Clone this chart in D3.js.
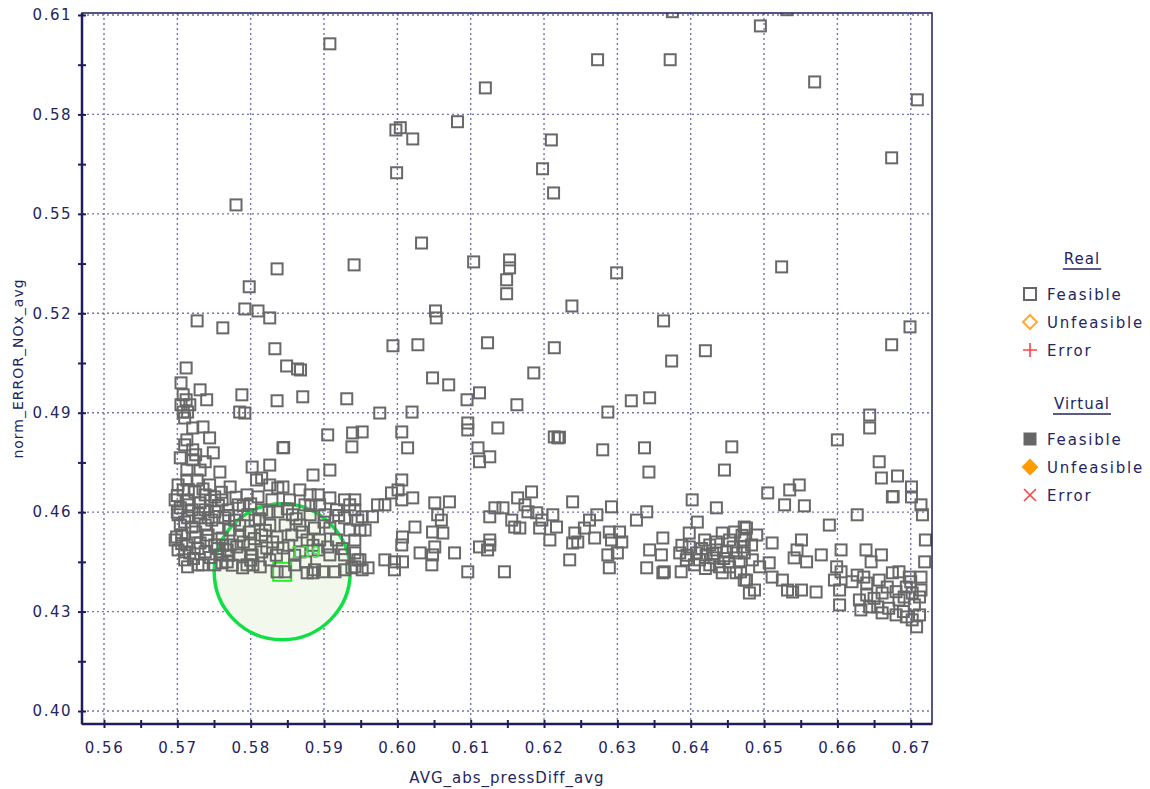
<!DOCTYPE html>
<html>
<head>
<meta charset="utf-8">
<script src="https://cdn.jsdelivr.net/npm/d3@7"></script>
<style>
  body { margin: 0; background: #fff; }
  text { font-family: "DejaVu Sans", sans-serif; }
</style>
</head>
<body>
<div id="chart"></div>
<script>
// axis ticks
const xTicks = [0.56, 0.57, 0.58, 0.59, 0.60, 0.61, 0.62, 0.63, 0.64, 0.65, 0.66, 0.67];
const yTicks = [0.40, 0.43, 0.46, 0.49, 0.52, 0.55, 0.58, 0.61];
const xTitle = "AVG_abs_pressDiff_avg";
const yTitle = "norm_ERROR_NOx_avg";

// selected design (green circle)
const selectedPoint = [0.5843, 0.4420];
const selectedLabel = "139";

// legend
const realLegend = ["Feasible", "Unfeasible", "Error"];
const virtualLegend = ["Feasible", "Unfeasible", "Error"];

// real feasible designs [x, y]
const upperPoints = [
  [0.5908,0.6013],[0.6273,0.5965],[0.6120,0.5880],[0.6372,0.5965],[0.6375,0.6110],[0.6495,0.6067],
  [0.6531,0.6116],[0.6569,0.5898],[0.6709,0.5844],[0.6082,0.5778],[0.5998,0.5753],[0.6004,0.5760],
  [0.6021,0.5726],[0.6210,0.5723],[0.6213,0.5563],[0.6198,0.5636],[0.5999,0.5624],[0.5780,0.5527],
  [0.6674,0.5669],[0.6033,0.5412],[0.6104,0.5355],[0.5941,0.5346],[0.6153,0.5361],[0.6153,0.5337],
  [0.6149,0.5301],[0.6149,0.5259],[0.6299,0.5322],[0.6524,0.5340],[0.5836,0.5334],[0.5798,0.5280],
  [0.5792,0.5213],[0.5810,0.5207],[0.5826,0.5186],[0.5727,0.5177],[0.5762,0.5156],[0.6052,0.5207],
  [0.6053,0.5186],[0.6238,0.5222],[0.6363,0.5177],[0.6699,0.5159],[0.5833,0.5093],[0.5994,0.5102],
  [0.6028,0.5105],[0.6123,0.5111],[0.6214,0.5096],[0.6420,0.5087],[0.6674,0.5105],[0.5712,0.5035],
  [0.5849,0.5041],[0.5864,0.5032],[0.5868,0.5029],[0.6374,0.5056],[0.6048,0.5005],[0.6070,0.4984],
  [0.6186,0.5020]
];

const leftCluster = [
  [0.5705,0.4990],[0.5708,0.4954],[0.5712,0.4939],[0.5705,0.4924],[0.5717,0.4924],[0.5708,0.4902],
  [0.5714,0.4902],[0.5710,0.4884],[0.5731,0.4969],[0.5740,0.4939],[0.5721,0.4854],[0.5735,0.4857],
  [0.5713,0.4818],[0.5744,0.4824],[0.5710,0.4803],[0.5721,0.4788],[0.5749,0.4779],[0.5725,0.4773],
  [0.5704,0.4764],[0.5721,0.4758],[0.5738,0.4752],[0.5758,0.4721],[0.5713,0.4727],[0.5731,0.4727],
  [0.5713,0.4697],[0.5727,0.4697],[0.5744,0.4682],[0.5701,0.4682],[0.5708,0.4667],[0.5724,0.4661],
  [0.5738,0.4652],[0.5751,0.4646],[0.5697,0.4637],[0.5714,0.4637],[0.5731,0.4628],[0.5761,0.4637],
  [0.5704,0.4613],[0.5720,0.4607],[0.5738,0.4607],[0.5751,0.4601],[0.5769,0.4607],[0.5783,0.4622],
  [0.5701,0.4592],[0.5714,0.4583],[0.5731,0.4583],[0.5747,0.4576],[0.5765,0.4583],[0.5778,0.4576],
  [0.5796,0.4592],[0.5704,0.4561],[0.5720,0.4555],[0.5738,0.4561],[0.5755,0.4552],[0.5772,0.4546],
  [0.5706,0.4531],[0.5724,0.4525],[0.5742,0.4531],[0.5761,0.4522],[0.5785,0.4531],[0.5697,0.4516],
  [0.5713,0.4501],[0.5731,0.4507],[0.5751,0.4501],[0.5772,0.4501],[0.5701,0.4486],[0.5717,0.4477],
  [0.5738,0.4480],[0.5758,0.4471],[0.5710,0.4456],[0.5728,0.4441],[0.5714,0.4435],[0.5751,0.4441],
  [0.5768,0.4450],[0.5785,0.4471],[0.5789,0.4432],[0.5734,0.4441],[0.5699,0.4525],[0.5710,0.4480],
  [0.5761,0.4447],[0.5795,0.4441],[0.5803,0.4441],[0.5813,0.4435],[0.5836,0.4420],[0.5847,0.4420],
  [0.5877,0.4417],[0.5885,0.4417],[0.5802,0.4471],[0.5768,0.4486],[0.5781,0.4495],
  [0.5788,0.4954],[0.5836,0.4936],[0.5871,0.4948],[0.5931,0.4942],[0.5785,0.4902],[0.5792,0.4899],
  [0.5905,0.4833],[0.5939,0.4839],[0.5938,0.4797],[0.5844,0.4794],[0.5845,0.4795],[0.5826,0.4742],
  [0.5802,0.4736],[0.5908,0.4727],[0.5885,0.4712],[0.5808,0.4697],[0.5837,0.4673],[0.5772,0.4676],
  [0.5881,0.4652],[0.5892,0.4652],[0.5795,0.4652],
  [0.5700,0.4650],[0.5716,0.4622],[0.5729,0.4598],[0.5742,0.4583],[0.5756,0.4620],[0.5770,0.4590],
  [0.5785,0.4560],[0.5798,0.4540],[0.5710,0.4570],[0.5725,0.4540],[0.5740,0.4515],[0.5755,0.4490],
  [0.5770,0.4470],[0.5790,0.4510],[0.5805,0.4520],[0.5820,0.4545],[0.5830,0.4510],[0.5812,0.4580],
  [0.5825,0.4600],[0.5790,0.4620],[0.5760,0.4660],[0.5745,0.4635],[0.5700,0.4600],[0.5715,0.4668],
  [0.5735,0.4670],[0.5780,0.4645],[0.5800,0.4625],[0.5722,0.4460],[0.5745,0.4463],[0.5762,0.4500],
  [0.5706,0.4505],[0.5728,0.4490],[0.5775,0.4440],[0.5800,0.4455],[0.5815,0.4480],[0.5835,0.4470]
];

const middleCluster = [
  [0.5815,0.4703],[0.5826,0.4682],[0.5844,0.4676],[0.5867,0.4667],[0.5908,0.4643],[0.5928,0.4637],
  [0.5935,0.4622],[0.5942,0.4607],[0.5810,0.4646],[0.5829,0.4637],[0.5853,0.4637],[0.5874,0.4622],
  [0.5894,0.4622],[0.5917,0.4607],[0.5815,0.4607],[0.5837,0.4601],[0.5857,0.4592],[0.5881,0.4592],
  [0.5901,0.4592],[0.5928,0.4583],[0.5946,0.4576],[0.5806,0.4576],[0.5826,0.4561],[0.5847,0.4561],
  [0.5867,0.4561],[0.5887,0.4552],[0.5908,0.4552],[0.5935,0.4546],[0.5815,0.4531],[0.5836,0.4525],
  [0.5856,0.4531],[0.5877,0.4516],[0.5894,0.4516],[0.5917,0.4516],[0.5942,0.4516],[0.5799,0.4501],
  [0.5822,0.4492],[0.5844,0.4492],[0.5867,0.4480],[0.5892,0.4486],[0.5908,0.4471],[0.5928,0.4471],
  [0.5949,0.4456],[0.5826,0.4456],[0.5860,0.4441],[0.5887,0.4426],[0.5898,0.4420],[0.5915,0.4420],
  [0.5928,0.4426],[0.5938,0.4432],
  [0.5850,0.4610],[0.5862,0.4580],[0.5870,0.4540],[0.5852,0.4500],[0.5882,0.4620],[0.5900,0.4570],
  [0.5920,0.4590],[0.5885,0.4500],[0.5905,0.4495],[0.5925,0.4490],[0.5875,0.4450],[0.5860,0.4470],
  [0.5942,0.4435],[0.5952,0.4426],[0.5960,0.4432],[0.5946,0.4456],[0.5942,0.4477],[0.5983,0.4456],
  [0.5996,0.4450],[0.6007,0.4450],[0.5996,0.4426],[0.6031,0.4477],[0.6048,0.4471],[0.6047,0.4441],
  [0.6078,0.4477],[0.6096,0.4420],[0.6146,0.4420],[0.6126,0.4501],[0.6123,0.4486],[0.6126,0.4516],
  [0.6006,0.4501],[0.6007,0.4525],[0.6024,0.4555],[0.6048,0.4540],[0.6051,0.4495],[0.6062,0.4537],
  [0.6060,0.4576],[0.6055,0.4592],[0.6051,0.4628],[0.6071,0.4631],[0.6021,0.4643],[0.6006,0.4637],
  [0.6001,0.4667],[0.6006,0.4697],[0.5992,0.4658],[0.5973,0.4622],[0.5983,0.4622],[0.5966,0.4586],
  [0.5952,0.4586],[0.5956,0.4546],[0.5949,0.4546],[0.5942,0.4637],[0.5952,0.4842],[0.6006,0.4842],
  [0.6014,0.4794],[0.5976,0.4899],[0.6020,0.4902],[0.6095,0.4939],[0.6112,0.4960],[0.6163,0.4924],
  [0.6096,0.4869],[0.6096,0.4848],[0.6137,0.4854],[0.6110,0.4794],[0.6126,0.4767],[0.6112,0.4752],
  [0.6164,0.4643],[0.6183,0.4661],[0.6174,0.4622],[0.6178,0.4601],[0.6156,0.4576],[0.6160,0.4555],
  [0.6167,0.4552],[0.6190,0.4598],[0.6197,0.4576],[0.6194,0.4552],[0.6208,0.4516],[0.6144,0.4613],
  [0.6133,0.4613],[0.6126,0.4586],[0.6214,0.4827],[0.6112,0.4495]
];

const rightCluster = [
  [0.6287,0.4902],[0.6319,0.4936],[0.6344,0.4945],[0.6219,0.4824],[0.6221,0.4826],[0.6280,0.4788],
  [0.6337,0.4794],[0.6343,0.4721],[0.6456,0.4797],[0.6446,0.4727],[0.6239,0.4631],[0.6292,0.4616],
  [0.6340,0.4601],[0.6326,0.4576],[0.6402,0.4637],[0.6435,0.4613],[0.6409,0.4570],[0.6398,0.4537],
  [0.6212,0.4592],[0.6217,0.4555],[0.6242,0.4537],[0.6239,0.4507],[0.6246,0.4510],[0.6255,0.4552],
  [0.6262,0.4576],[0.6272,0.4592],[0.6269,0.4522],[0.6289,0.4540],[0.6292,0.4516],[0.6303,0.4540],
  [0.6306,0.4510],[0.6287,0.4471],[0.6300,0.4477],[0.6289,0.4432],[0.6235,0.4456],[0.6344,0.4486],
  [0.6362,0.4522],[0.6360,0.4471],[0.6340,0.4432],[0.6364,0.4420],[0.6362,0.4417],[0.6387,0.4420],
  [0.6385,0.4477],[0.6394,0.4456],[0.6408,0.4477],[0.6421,0.4471],[0.6435,0.4486],[0.6449,0.4480],
  [0.6462,0.4477],[0.6471,0.4495],[0.6476,0.4552],[0.6443,0.4537],[0.6412,0.4456],[0.6426,0.4441],
  [0.6439,0.4435],[0.6453,0.4435],[0.6466,0.4450],[0.6443,0.4417],[0.6462,0.4417],[0.6473,0.4395],
  [0.6480,0.4356],[0.6398,0.4495],[0.6426,0.4501],[0.6419,0.4516],[0.6453,0.4516],[0.6405,0.4441],
  [0.6432,0.4462],[0.6395,0.4470],[0.6415,0.4490],[0.6430,0.4475],[0.6445,0.4460],[0.6458,0.4495],
  [0.6470,0.4530],[0.6420,0.4430],[0.6452,0.4450],[0.6468,0.4420],[0.6388,0.4500],[0.6435,0.4510],
  [0.6460,0.4540],
  [0.6644,0.4893],[0.6644,0.4854],[0.6600,0.4818],[0.6657,0.4752],[0.6660,0.4703],[0.6682,0.4709],
  [0.6675,0.4646],[0.6676,0.4647],[0.6701,0.4676],[0.6701,0.4646],[0.6714,0.4622],[0.6716,0.4592],
  [0.6505,0.4658],[0.6535,0.4667],[0.6548,0.4682],[0.6528,0.4622],[0.6555,0.4619],[0.6627,0.4592],
  [0.6589,0.4561],[0.6473,0.4555],[0.6490,0.4531],[0.6473,0.4516],[0.6483,0.4501],[0.6511,0.4507],
  [0.6551,0.4516],[0.6545,0.4486],[0.6541,0.4462],[0.6558,0.4450],[0.6578,0.4471],[0.6605,0.4486],
  [0.6639,0.4486],[0.6660,0.4471],[0.6646,0.4450],[0.6599,0.4435],[0.6605,0.4420],[0.6473,0.4477],
  [0.6484,0.4456],[0.6494,0.4435],[0.6507,0.4447],[0.6511,0.4404],[0.6525,0.4395],[0.6532,0.4365],
  [0.6539,0.4359],[0.6551,0.4365],[0.6571,0.4359],[0.6487,0.4365],[0.6476,0.4395],[0.6596,0.4395],
  [0.6603,0.4365],[0.6603,0.4320],[0.6627,0.4410],[0.6636,0.4404],[0.6640,0.4386],[0.6630,0.4335],
  [0.6632,0.4305],[0.6644,0.4314],[0.6661,0.4356],[0.6657,0.4395],[0.6675,0.4417],[0.6684,0.4420],
  [0.6698,0.4404],[0.6714,0.4404],[0.6719,0.4450],[0.6694,0.4374],[0.6702,0.4356],[0.6712,0.4344],
  [0.6714,0.4365],[0.6684,0.4335],[0.6691,0.4344],[0.6661,0.4296],[0.6680,0.4290],[0.6694,0.4284],
  [0.6702,0.4275],[0.6708,0.4254],[0.6668,0.4374],[0.6655,0.4314],[0.6720,0.4516],
  [0.6650,0.4340],[0.6670,0.4310],[0.6690,0.4300],[0.6705,0.4320],[0.6712,0.4290],[0.6700,0.4390],
  [0.6680,0.4360],[0.6640,0.4350],[0.6620,0.4390]
];

const realFeasible = upperPoints.concat(leftCluster, middleCluster, rightCluster);

const W = 1150, H = 789;
const margin = { top: 13, left: 82, right: 218, bottom: 65 };
const pw = W - margin.left - margin.right;   // 850
const ph = H - margin.top - margin.bottom;   // 711

const axisColor = "#1e1e5c";
const gridColor = "#7373b0";
const pointColor = "#686868";

const svg = d3.select("#chart").append("svg")
  .attr("width", W)
  .attr("height", H);

const x = d3.scaleLinear().domain([0.5570, 0.6729]).range([0, pw]);
const y = d3.scaleLinear().domain([0.39608, 0.6106]).range([ph, 0]);

svg.append("defs").append("clipPath").attr("id", "plotClip")
  .append("rect").attr("width", pw).attr("height", ph);

const g = svg.append("g").attr("transform", `translate(${margin.left},${margin.top})`);

// grid
g.append("g").selectAll("line").data(xTicks).enter().append("line")
  .attr("x1", d => x(d)).attr("x2", d => x(d))
  .attr("y1", 0).attr("y2", ph)
  .attr("stroke", gridColor).attr("stroke-width", 1.4).attr("stroke-dasharray", "2,3");
g.append("g").selectAll("line").data(yTicks).enter().append("line")
  .attr("y1", d => y(d)).attr("y2", d => y(d))
  .attr("x1", 0).attr("x2", pw)
  .attr("stroke", gridColor).attr("stroke-width", 1.4).attr("stroke-dasharray", "2,3");

const plot = g.append("g").attr("clip-path", "url(#plotClip)");

// highlight circle for the selected design
const sx = x(selectedPoint[0]), sy = y(selectedPoint[1]);
plot.append("circle")
  .attr("cx", sx).attr("cy", sy).attr("r", 68)
  .attr("fill", "#f2f8ec")
  .attr("stroke", "#0ee043").attr("stroke-width", 3.5);
plot.append("rect")
  .attr("x", sx - 9).attr("y", sy - 9)
  .attr("width", 18).attr("height", 18)
  .attr("fill", "none").attr("stroke", "#22ee22").attr("stroke-width", 2);

// points
const sq = 11;
plot.append("g").selectAll("rect").data(realFeasible).enter().append("rect")
  .attr("x", d => x(d[0]) - sq / 2)
  .attr("y", d => y(d[1]) - sq / 2)
  .attr("width", sq).attr("height", sq)
  .attr("fill", "none")
  .attr("stroke", pointColor)
  .attr("stroke-width", 2);

plot.append("text")
  .attr("x", sx + 8).attr("y", sy - 14)
  .attr("fill", "#33ee33")
  .style("font-size", "15px")
  .style("letter-spacing", "1px")
  .text(selectedLabel);

// axes: major + minor ticks crossing the axis line
const xMinor = d3.range(0.565, 0.672, 0.01);
const yMinor = d3.range(0.415, 0.60, 0.03);

function styleAxis(sel, horizontal) {
  sel.select(".domain").remove();
  sel.selectAll(".tick line")
    .attr("stroke", axisColor).attr("stroke-width", 2)
    .attr(horizontal ? "y1" : "x1", horizontal ? -4 : 4);
  sel.selectAll(".tick text")
    .attr("fill", "#25255e")
    .style("font-size", "15px")
    .style("letter-spacing", "1.5px")
    .style("font-family", "DejaVu Sans, sans-serif");
}

const xAxis = g.append("g").attr("transform", `translate(0,${ph})`)
  .call(d3.axisBottom(x).tickValues(xTicks).tickSize(4).tickPadding(14).tickFormat(d3.format(".2f")));
styleAxis(xAxis, true);
const xAxisMinor = g.append("g").attr("transform", `translate(0,${ph})`)
  .call(d3.axisBottom(x).tickValues(xMinor).tickSize(4).tickFormat(""));
styleAxis(xAxisMinor, true);

const yAxis = g.append("g")
  .call(d3.axisLeft(y).tickValues(yTicks).tickSize(4).tickPadding(6).tickFormat(d3.format(".2f")));
styleAxis(yAxis, false);
const yAxisMinor = g.append("g")
  .call(d3.axisLeft(y).tickValues(yMinor).tickSize(4).tickFormat(""));
styleAxis(yAxisMinor, false);

// frame
g.append("rect").attr("width", pw).attr("height", ph)
  .attr("fill", "none").attr("stroke", axisColor).attr("stroke-width", 1.5);
g.append("line").attr("x1", 0).attr("x2", 0).attr("y1", 0).attr("y2", ph)
  .attr("stroke", axisColor).attr("stroke-width", 2.5);
g.append("line").attr("x1", 0).attr("x2", pw).attr("y1", ph).attr("y2", ph)
  .attr("stroke", axisColor).attr("stroke-width", 2.5);

// axis titles
svg.append("text")
  .attr("x", margin.left + pw / 2).attr("y", 783)
  .attr("text-anchor", "middle")
  .attr("fill", "#25255e")
  .style("font-size", "15px").style("letter-spacing", "1px")
  .text(xTitle);
svg.append("text")
  .attr("transform", `translate(23,${margin.top + ph / 2}) rotate(-90)`)
  .attr("text-anchor", "middle")
  .attr("fill", "#25255e")
  .style("font-size", "14px").style("letter-spacing", "1px")
  .text(yTitle);

// legend
function legendBlock(title, items, top, filled) {
  const lg = svg.append("g");
  const t = lg.append("text")
    .attr("x", 1082).attr("y", top)
    .attr("text-anchor", "middle")
    .attr("fill", "#25255e")
    .style("font-size", "15px").style("letter-spacing", "1px")
    .text(title);
  const bb = t.node().getBBox();
  lg.append("line")
    .attr("x1", bb.x - 1).attr("x2", bb.x + bb.width + 1)
    .attr("y1", top + 5).attr("y2", top + 5)
    .attr("stroke", "#25255e").attr("stroke-width", 1.5);

  items.forEach((name, i) => {
    const cy = top + 30 + i * 28;
    const cx = 1030;
    if (i === 0) {
      lg.append("rect").attr("x", cx - 6).attr("y", cy - 6).attr("width", 12).attr("height", 12)
        .attr("fill", filled ? "#666666" : "none")
        .attr("stroke", "#666666").attr("stroke-width", filled ? 1 : 2);
    } else if (i === 1) {
      lg.append("path")
        .attr("d", `M${cx},${cy - 7}L${cx + 7},${cy}L${cx},${cy + 7}L${cx - 7},${cy}Z`)
        .attr("fill", filled ? "#ff9a00" : "none")
        .attr("stroke", filled ? "#ff9a00" : "#ffaa33").attr("stroke-width", 2);
    } else {
      const p = filled
        ? `M${cx - 6},${cy - 6}L${cx + 6},${cy + 6}M${cx + 6},${cy - 6}L${cx - 6},${cy + 6}`
        : `M${cx - 7},${cy}L${cx + 7},${cy}M${cx},${cy - 7}L${cx},${cy + 7}`;
      lg.append("path").attr("d", p).attr("stroke", "#ff4444").attr("stroke-width", 1.6).attr("fill", "none");
    }
    lg.append("text")
      .attr("x", 1047).attr("y", cy + 5.5)
      .attr("fill", "#25255e")
      .style("font-size", "15px").style("letter-spacing", "1.8px")
      .text(name);
  });
}
legendBlock("Real", realLegend, 264, false);
legendBlock("Virtual", virtualLegend, 409, true);
</script>
</body>
</html>
